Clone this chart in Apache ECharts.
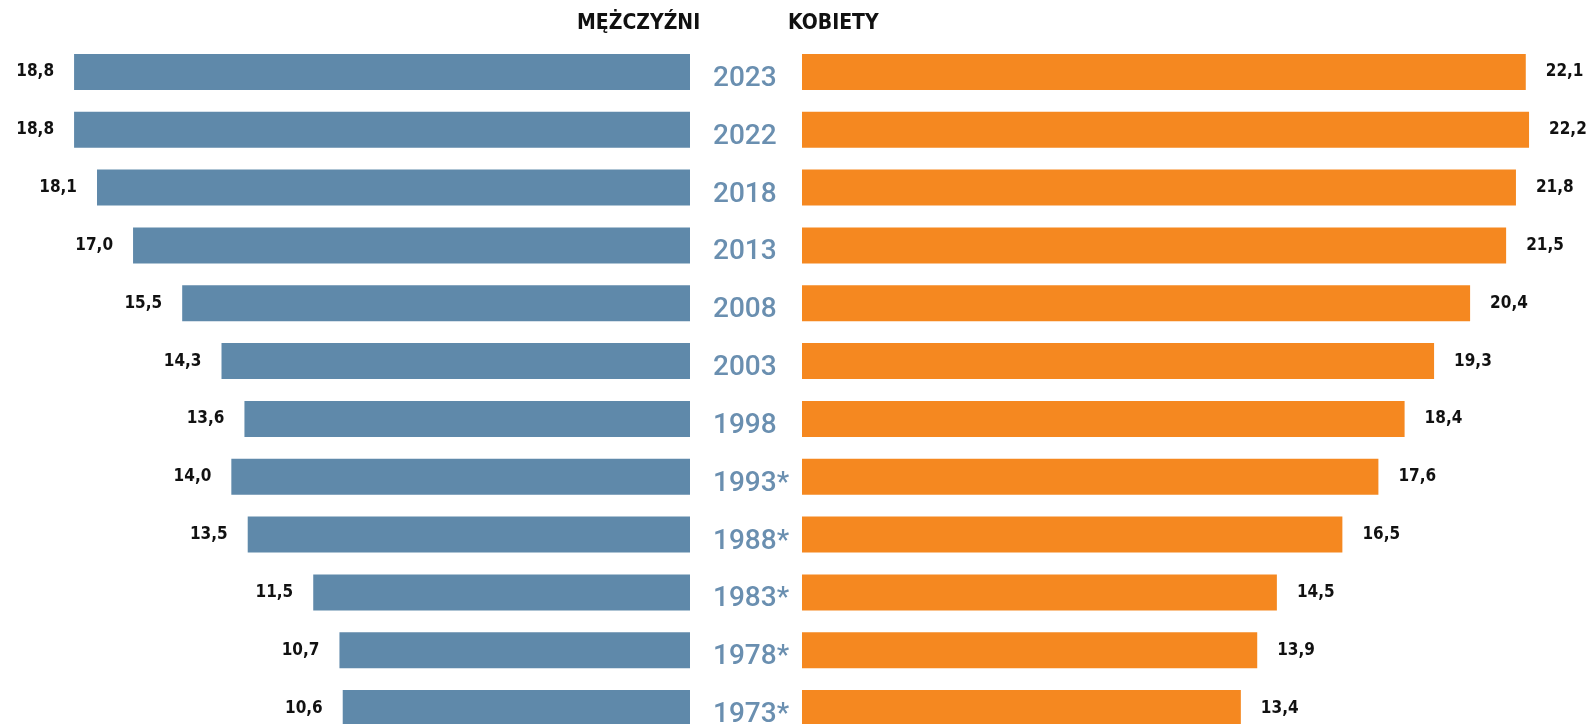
<!DOCTYPE html>
<html>
<head>
<meta charset="utf-8">
<script src="https://cdn.jsdelivr.net/npm/echarts@6/dist/echarts.min.js"></script>
<style>
html, body { margin: 0; padding: 0; background: #fff; }
#chart { width: 1591px; height: 724px; }
</style>
</head>
<body>
<div id="chart"></div>
<script>
// lata badania
const years = ['2023', '2022', '2018', '2013', '2008', '2003', '1998', '1993*', '1988*', '1983*', '1978*', '1973*']
// mężczyźni
const menValues = [18.8, 18.8, 18.1, 17.0, 15.5, 14.3, 13.6, 14.0, 13.5, 11.5, 10.7, 10.6]
// kobiety
const womenValues = [22.1, 22.2, 21.8, 21.5, 20.4, 19.3, 18.4, 17.6, 16.5, 14.5, 13.9, 13.4]

const FONT = '"DejaVu Sans Condensed", "DejaVu Sans", sans-serif'
const fmt = function(p) { return p.value.toFixed(1).replace('.', ',') }

const chart = echarts.init(document.getElementById('chart'))
chart.setOption({
  animation: false,
  graphic: [
    {
      type: 'text', left: 577, top: 13,
      style: { text: 'MĘŻCZYŹNI', font: 'bold 21px ' + FONT, fill: '#111' }
    },
    {
      type: 'text', left: 788, top: 13,
      style: { text: 'KOBIETY', font: 'bold 21px ' + FONT, fill: '#111' }
    }
  ],
  grid: [
    { left: 2, width: 688, top: 43, height: 694, outerBoundsMode: 'none' },
    { left: 802, width: 786, top: 43, height: 694, outerBoundsMode: 'none' }
  ],
  xAxis: [
    {
      gridIndex: 0, type: 'value', min: 0, max: 21, inverse: true,
      axisLine: { show: false }, axisTick: { show: false },
      axisLabel: { show: false }, splitLine: { show: false }
    },
    {
      gridIndex: 1, type: 'value', min: 0, max: 24,
      axisLine: { show: false }, axisTick: { show: false },
      axisLabel: { show: false }, splitLine: { show: false }
    }
  ],
  yAxis: [
    {
      gridIndex: 0, type: 'category', data: years, inverse: true,
      axisLine: { show: false }, axisTick: { show: false }, axisLabel: { show: false }
    },
    {
      gridIndex: 1, type: 'category', data: years, inverse: true,
      axisLine: { show: false }, axisTick: { show: false },
      axisLabel: {
        align: 'left', margin: 89, verticalAlign: 'top', lineHeight: 14,
        fontFamily: 'Roboto, ' + FONT, fontWeight: 500, fontSize: 28, color: '#6a8fb0'
      }
    }
  ],
  series: [
    {
      type: 'bar', xAxisIndex: 0, yAxisIndex: 0, data: menValues, barWidth: 36,
      itemStyle: { color: '#5f89aa' },
      label: {
        show: true, position: 'left', distance: 20, formatter: fmt,
        fontFamily: FONT, fontWeight: 'bold', fontSize: 17, color: '#111'
      }
    },
    {
      type: 'bar', xAxisIndex: 1, yAxisIndex: 1, data: womenValues, barWidth: 36,
      itemStyle: { color: '#f58820' },
      label: {
        show: true, position: 'right', distance: 20, formatter: fmt,
        fontFamily: FONT, fontWeight: 'bold', fontSize: 17, color: '#111'
      }
    }
  ]
})
</script>
</body>
</html>
